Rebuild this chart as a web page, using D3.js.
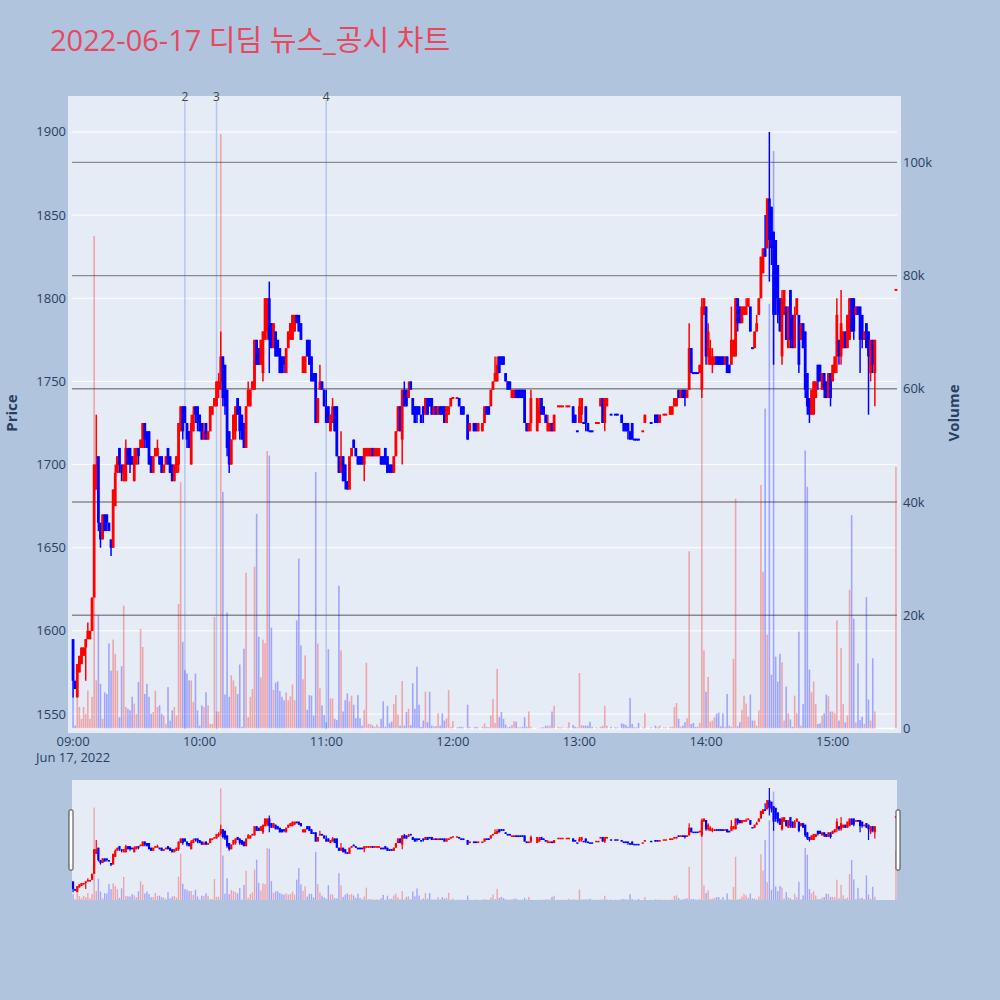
<!DOCTYPE html>
<html><head><meta charset="utf-8">
<script src="https://cdn.jsdelivr.net/npm/d3@7"></script>
<style>body{margin:0;background:#b0c4de;}svg{display:block;font-family:"Open Sans","Noto Sans",Arial,sans-serif;}</style>
</head><body><svg id="chart" width="1000" height="1000"></svg>
<script>
const chartTitle = "2022-06-17 디딤 뉴스_공시 차트";
const tradeDay = "2022-06-17";
const dateLabel = "Jun 17, 2022";
const hourTicks = ["09:00","10:00","11:00","12:00","13:00","14:00","15:00"];
const priceTicks = [1550,1600,1650,1700,1750,1800,1850,1900];
const volumeTicks = [0,20000,40000,60000,80000,100000];
const volumeTickLabels = ["0","20k","40k","60k","80k","100k"];
const newsTimes = ["09:53","10:08","11:00"];
const newsLabels = ["2","3","4"];

// minutes after 09:00 for each 1-minute candle
const candleMinute = [
0,1,2,3,4,5,6,7,8,9,10,11,12,13,14,15,16,17,18,19,20,21,22,23,24,25,26,27,28,29,
30,31,32,33,34,35,36,37,38,39,40,41,42,43,44,45,46,47,48,49,50,51,52,53,54,55,56,57,58,59,
60,61,62,63,64,65,66,67,68,69,70,71,72,73,74,75,76,77,78,79,80,81,82,83,84,85,86,87,88,89,
90,91,92,93,94,95,96,97,98,99,100,101,102,103,104,105,106,107,108,109,110,111,112,113,114,115,116,117,118,119,
120,121,122,123,124,125,126,127,128,129,130,131,132,133,134,135,136,137,138,139,140,141,142,143,144,145,146,147,148,149,
150,151,152,153,154,155,156,157,158,159,160,161,162,163,164,165,166,167,168,169,170,171,172,173,174,175,176,177,178,179,180,
182,183,184,185,187,188,190,191,192,194,
195,196,197,198,199,200,201,202,203,204,
205,206,207,208,209,210,211,212,213,214,
215,216,217,220,221,222,223,224,225,226,
227,228,230,231,232,234,235,237,238,239,
240,241,242,243,244,245,246,248,249,250,
251,252,253,255,257,258,260,261,262,263,
264,265,266,267,268,270,271,274,276,277,
278,280,281,283,284,285,286,287,288,289,
290,291,292,293,294,295,296,297,298,299,
300,301,302,303,304,305,306,307,308,309,
310,311,312,313,314,315,316,317,318,319,
320,321,322,323,324,325,326,327,328,329,
330,331,332,333,334,335,336,337,338,339,
340,341,342,343,344,345,346,347,348,349,
350,351,352,353,354,355,356,357,358,359,
360,361,362,363,364,365,366,367,368,369,
370,371,372,373,374,375,376,377,378,379,380,
390];

const openPrice = [
1595,1570,1560,1575,1580,1585,1590,1595,1595,1600,
1620,1685,1705,1665,1655,1670,1670,1665,1655,1650,
1675,1695,1710,1700,1690,1690,1710,1710,1705,1690,
1700,1710,1710,1710,1725,1720,1720,1705,1695,1705,
1705,1705,1705,1695,1700,1710,1705,1700,1690,1695,
1700,1720,1735,1735,1725,1720,1700,1720,1735,1735,
1730,1725,1715,1725,1715,1720,1730,1735,1735,1745,
1750,1765,1760,1745,1720,1700,1715,1720,1740,1735,
1730,1725,1710,1735,1735,1745,1745,1775,1770,1760,
1755,1775,1780,1800,1785,1770,1780,1775,1770,1765,
1765,1755,1770,1775,1775,1780,1790,1790,1785,1755,
1755,1775,1775,1765,1755,1755,1725,1745,1750,1745,
1735,1735,1720,1725,1735,1735,1705,1695,1705,1700,
1690,1685,1705,1715,1710,1705,1705,1705,1700,1705,
1705,1705,1710,1705,1705,1705,1705,1705,1710,1705,
1700,1700,1695,1705,1720,1735,1715,1745,1745,1740,
1750,1740,1735,1735,1735,1730,1735,1730,1740,1740,
1740,1730,1735,1730,1735,1735,1735,1725,1730,1735,1740,
1740,1740,1735,1735,1730,1720,1725,1725,1720,1720,
1725,1735,1735,1735,1745,1750,1750,1765,1765,1765,
1755,1750,1750,1740,1740,1745,1745,1745,1745,1745,
1725,1720,1725,1720,1725,1740,1735,1730,1720,1720,
1725,1720,1735,1735,1735,1735,1735,1735,1730,1720,
1725,1730,1725,1735,1725,1720,1720,1725,1725,1735,
1740,1725,1735,1730,1730,1730,1730,1725,1725,1725,
1720,1725,1715,1715,1715,1720,1725,1725,1730,1730,
1725,1730,1730,1730,1730,1735,1735,1745,1740,1745,
1745,1740,1745,1770,1755,1755,1755,1755,1745,1790,
1795,1765,1760,1760,1760,1765,1765,1765,1765,1760,
1765,1760,1760,1765,1765,1800,1795,1785,1790,1790,
1795,1795,1770,1770,1780,1790,1800,1815,1830,1830,
1860,1855,1840,1835,1820,1800,1765,1790,1795,1770,
1805,1790,1770,1790,1790,1775,1785,1780,1755,1740,
1730,1730,1740,1760,1760,1745,1755,1750,1740,1755,
1750,1755,1765,1775,1765,1770,1780,1770,1775,1800,
1800,1790,1795,1795,1790,1775,1785,1780,1755,1775,1755,
1805];

const highPrice = [
1595,1570,1580,1585,1590,1590,1595,1605,1600,1620,
1700,1730,1705,1665,1670,1670,1670,1665,1655,1685,
1700,1705,1710,1700,1700,1715,1710,1710,1705,1710,
1710,1710,1715,1725,1725,1720,1720,1705,1705,1710,
1715,1705,1705,1700,1705,1710,1705,1700,1700,1705,
1725,1735,1735,1735,1725,1720,1730,1735,1735,1735,
1730,1725,1725,1725,1720,1735,1735,1740,1750,1755,
1780,1765,1760,1745,1720,1715,1730,1735,1740,1735,
1730,1725,1735,1750,1745,1750,1775,1775,1770,1775,
1780,1800,1800,1810,1785,1785,1780,1775,1770,1765,
1765,1770,1780,1785,1790,1790,1790,1790,1785,1765,
1765,1775,1775,1765,1755,1755,1740,1760,1750,1745,
1745,1735,1730,1740,1735,1735,1705,1720,1705,1700,
1690,1705,1710,1715,1710,1705,1705,1705,1710,1710,
1710,1710,1710,1710,1710,1710,1705,1705,1710,1705,
1700,1700,1705,1720,1735,1735,1745,1750,1745,1750,
1750,1740,1735,1735,1735,1730,1735,1740,1740,1740,
1740,1735,1735,1735,1735,1735,1735,1735,1735,1740,1740,
1740,1740,1735,1735,1730,1725,1725,1725,1725,1725,
1735,1735,1735,1745,1750,1765,1765,1765,1765,1765,
1755,1750,1750,1745,1745,1745,1745,1745,1745,1745,
1725,1725,1745,1740,1740,1740,1735,1730,1730,1725,
1725,1730,1735,1735,1735,1735,1735,1735,1730,1720,
1740,1740,1725,1735,1725,1720,1720,1725,1725,1740,
1740,1740,1740,1730,1730,1730,1730,1725,1725,1725,
1720,1725,1715,1715,1715,1720,1730,1725,1730,1730,
1730,1730,1730,1735,1735,1740,1740,1745,1745,1745,
1745,1745,1785,1770,1755,1755,1755,1760,1800,1800,
1795,1785,1775,1770,1765,1765,1765,1765,1765,1765,
1765,1760,1795,1775,1800,1800,1795,1795,1795,1800,
1800,1795,1770,1780,1790,1800,1825,1830,1850,1860,
1900,1855,1840,1835,1820,1800,1805,1805,1795,1795,
1805,1790,1795,1800,1790,1785,1785,1780,1755,1740,
1745,1750,1750,1760,1760,1755,1755,1750,1755,1755,
1760,1765,1800,1775,1805,1780,1780,1790,1800,1800,
1800,1795,1795,1795,1790,1780,1785,1780,1775,1775,1775,
1805];

const lowPrice = [
1560,1565,1560,1575,1580,1585,1570,1595,1595,1600,
1620,1685,1660,1650,1655,1660,1660,1660,1645,1650,
1675,1695,1695,1690,1690,1690,1700,1695,1700,1690,
1700,1700,1710,1710,1710,1710,1700,1695,1695,1705,
1705,1700,1695,1695,1700,1700,1695,1690,1690,1695,
1695,1720,1715,1725,1710,1710,1700,1720,1725,1720,
1720,1715,1715,1715,1715,1720,1730,1735,1735,1740,
1745,1735,1730,1705,1695,1700,1715,1715,1730,1715,
1715,1710,1710,1735,1735,1745,1745,1760,1760,1760,
1750,1775,1775,1755,1770,1770,1765,1765,1755,1755,
1755,1755,1770,1775,1775,1780,1785,1780,1775,1755,
1755,1765,1760,1750,1750,1725,1725,1745,1745,1735,
1725,1725,1720,1725,1720,1705,1695,1695,1690,1685,
1685,1685,1705,1710,1705,1700,1700,1700,1690,1705,
1705,1705,1705,1705,1705,1705,1700,1700,1700,1695,
1695,1695,1695,1705,1720,1720,1700,1735,1735,1740,
1745,1730,1725,1725,1730,1725,1725,1730,1730,1735,
1730,1730,1730,1730,1730,1730,1725,1725,1730,1735,1740,
1740,1735,1730,1730,1715,1720,1720,1720,1720,1720,
1725,1730,1730,1735,1745,1750,1750,1755,1760,1760,
1750,1745,1745,1740,1740,1740,1740,1740,1740,1725,
1720,1720,1720,1720,1725,1730,1730,1725,1720,1720,
1720,1720,1735,1735,1735,1735,1735,1725,1725,1720,
1725,1725,1725,1720,1720,1720,1720,1725,1725,1735,
1725,1720,1735,1730,1730,1730,1725,1720,1720,1715,
1715,1715,1715,1715,1715,1720,1725,1725,1725,1725,
1725,1730,1730,1730,1730,1735,1735,1740,1740,1740,
1735,1740,1745,1755,1755,1755,1755,1755,1740,1790,
1760,1760,1760,1755,1760,1760,1760,1760,1760,1760,
1755,1755,1760,1765,1765,1780,1785,1785,1790,1790,
1795,1780,1770,1770,1780,1790,1800,1815,1825,1830,
1810,1820,1760,1790,1785,1780,1760,1790,1775,1770,
1770,1770,1770,1790,1755,1775,1770,1740,1730,1725,
1730,1730,1740,1745,1750,1745,1740,1740,1740,1735,
1750,1755,1755,1760,1760,1770,1770,1770,1775,1780,
1775,1790,1790,1755,1770,1775,1770,1730,1750,1755,1735,
1805];

const closePrice = [
1570,1565,1580,1585,1590,1590,1595,1600,1600,1620,
1700,1700,1665,1655,1670,1660,1665,1660,1650,1685,
1695,1705,1700,1695,1700,1710,1700,1700,1700,1705,
1710,1705,1715,1725,1715,1710,1700,1695,1705,1710,
1710,1700,1695,1700,1705,1700,1695,1690,1700,1705,
1725,1735,1720,1725,1715,1710,1725,1730,1730,1725,
1720,1715,1720,1715,1720,1735,1735,1740,1750,1750,
1765,1740,1735,1710,1700,1715,1730,1735,1730,1720,
1715,1710,1735,1745,1745,1750,1775,1760,1760,1775,
1780,1800,1800,1775,1770,1785,1765,1765,1755,1755,
1760,1770,1780,1785,1790,1790,1785,1780,1775,1765,
1765,1765,1760,1750,1750,1725,1740,1750,1745,1735,
1725,1725,1730,1735,1720,1705,1695,1705,1690,1690,
1685,1705,1710,1710,1705,1700,1700,1700,1710,1710,
1710,1710,1705,1710,1710,1710,1700,1700,1700,1695,
1695,1695,1705,1720,1735,1720,1745,1735,1735,1745,
1745,1730,1725,1730,1730,1725,1730,1740,1730,1735,
1730,1735,1730,1735,1730,1730,1725,1735,1735,1740,1740,
1740,1735,1730,1730,1715,1725,1720,1720,1725,1725,
1735,1730,1730,1745,1750,1755,1760,1755,1760,1760,
1750,1745,1745,1745,1745,1740,1740,1740,1740,1725,
1720,1725,1740,1740,1735,1730,1730,1725,1725,1725,
1720,1730,1735,1735,1735,1735,1735,1725,1725,1720,
1735,1740,1725,1725,1720,1720,1720,1725,1725,1740,
1725,1740,1740,1730,1730,1730,1725,1720,1720,1720,
1715,1715,1715,1715,1715,1720,1730,1725,1725,1725,
1730,1730,1730,1735,1735,1740,1740,1740,1745,1740,
1740,1745,1770,1755,1755,1755,1755,1760,1795,1800,
1765,1780,1770,1765,1765,1760,1760,1760,1760,1765,
1755,1755,1775,1775,1800,1785,1785,1795,1795,1795,
1800,1780,1770,1780,1785,1800,1825,1830,1825,1860,
1835,1830,1790,1800,1790,1780,1800,1805,1775,1795,
1775,1770,1790,1800,1760,1785,1770,1745,1735,1730,
1745,1750,1750,1750,1750,1755,1745,1740,1755,1740,
1760,1765,1790,1765,1785,1780,1770,1790,1800,1780,
1780,1795,1790,1775,1775,1780,1770,1765,1775,1760,1775,
1805];

const volume = [
5600,500,6100,3800,1700,3800,2600,6700,1700,5600,
87000,8500,20000,7900,1700,6400,6100,15000,10200,15700,
13200,10200,2000,11000,21700,3800,3500,3200,5600,4400,
2600,8200,17600,14400,6100,7900,5600,2600,2900,6700,
3800,4100,2600,2300,800,7300,1400,3200,3800,2300,
22000,43500,15300,10300,9700,8500,8500,4700,9700,3200,
500,4100,3800,6400,4100,800,800,19700,3000,3000,
105000,41800,6000,20500,5600,9400,8500,7400,6100,11300,
300,14100,27500,2000,5600,7000,28600,37900,16200,9000,
15700,15100,49000,48200,17800,6800,8100,8300,6600,5600,
5000,6400,5000,5700,7800,5000,19100,30000,14700,8700,
12900,3300,5900,5800,2300,45300,15000,7100,4100,2400,
1100,14000,5300,5300,1700,1500,25200,13800,3000,5000,
6200,4800,5800,4200,1800,5900,1800,500,3300,11600,
800,800,500,300,700,300,1700,4800,300,4000,
900,1200,4300,5900,2500,500,8400,500,2900,3500,
600,8000,3500,10900,4200,300,1400,6500,1100,6500,
500,400,400,2700,500,2700,1400,1800,6800,300,1300,
200,300,300,200,4200,300,200,300,200,300,
900,300,200,2300,5200,1000,10500,2000,2900,1700,
700,200,300,600,1300,1200,200,200,300,2000,
300,3000,300,100,100,200,200,500,500,500,
3000,4000,300,200,200,200,1100,600,300,200,
9800,600,500,500,500,1200,300,200,100,300,
400,4000,500,300,200,200,900,800,600,300,
5400,800,200,200,1000,200,2700,200,500,200,
500,200,200,300,300,3800,4500,1700,300,500,
1100,1800,31300,800,1000,300,300,1000,76000,13800,
6500,9100,1200,1400,2000,2600,2800,400,2700,300,
6100,500,300,12300,40600,400,1100,3300,5800,4400,
2100,6000,1400,1400,500,3200,43000,27700,56500,16600,
75000,9500,102000,12700,8300,13200,11700,1400,7400,2700,
1600,300,5800,2700,17100,500,4300,49100,42700,10400,
6400,8300,4300,800,900,2300,2700,6000,5700,3000,
3000,2700,19100,1400,14200,4300,1100,2300,24500,37700,
19400,1100,11500,1500,2100,800,23200,5100,1400,12400,3000,
46200];

const svg = d3.select("#chart");
const parse = d3.timeParse("%Y-%m-%d %H:%M");
const t0 = parse(tradeDay + " 09:00");
const rows = candleMinute.map((m, i) => ({
  t: d3.timeMinute.offset(t0, m), o: openPrice[i], h: highPrice[i], l: lowPrice[i], c: closePrice[i], v: volume[i]
}));
rows.forEach((d, i) => {
  if (d.c > d.o) d.up = true;
  else if (d.c < d.o) d.up = false;
  else if (i === 0) d.up = true;
  else { const pc = rows[i - 1].c; d.up = d.c > pc ? true : d.c < pc ? false : rows[i - 1].up; }
});
const UP = "#ff0000", DOWN = "#0000ff";

const pL = 72, pR = 897, pT = 100, pB = 729;
const x = d3.scaleTime()
  .domain([new Date(t0.getTime() - 30000), new Date(d3.timeMinute.offset(t0, 390).getTime() + 30000)])
  .range([pL, pR]);
const yP = d3.scaleLinear().domain([1541, 1919.2]).range([pB, pT]);
const yV = d3.scaleLinear().domain([0, 111000]).range([728.5, pT]);

// title
svg.append("text").attr("x", 50).attr("y", 51).attr("font-size", 29)
  .attr("font-family", "'Open Sans','Noto Sans CJK KR',sans-serif")
  .attr("fill", "#e8485f").text(chartTitle);

// plot bg
svg.append("rect").attr("x", 68).attr("y", 96).attr("width", 833).attr("height", 637).attr("fill", "#e5ecf6");

// price grid
svg.append("g").selectAll("line").data(priceTicks).join("line")
  .attr("x1", pL).attr("x2", pR).attr("y1", d => yP(d)).attr("y2", d => yP(d))
  .attr("stroke", "#fff").attr("stroke-width", 1);
// volume grid
svg.append("g").selectAll("line").data(volumeTicks).join("line")
  .attr("x1", pL).attr("x2", pR).attr("y1", d => yV(d)).attr("y2", d => yV(d))
  .attr("stroke", (d, i) => i === 0 ? "#fff" : "#8a8a8a").attr("stroke-width", (d, i) => i === 0 ? 1.5 : 1.3);

// volume bars
svg.append("g").selectAll("rect").data(rows).join("rect")
  .attr("x", d => x(d.t) - 0.8).attr("width", 1.6)
  .attr("y", d => yV(d.v)).attr("height", d => yV(0) - yV(d.v))
  .attr("fill", d => d.up ? UP : DOWN).attr("opacity", 0.3);

// news lines
const newsDates = newsTimes.map(s => parse(tradeDay + " " + s));
svg.append("g").selectAll("line").data(newsDates).join("line")
  .attr("x1", d => x(d)).attr("x2", d => x(d)).attr("y1", pT).attr("y2", pB)
  .attr("stroke", "rgb(65,105,225)").attr("stroke-opacity", 0.3).attr("stroke-width", 1.5);
svg.append("g").selectAll("text").data(newsDates).join("text")
  .attr("x", d => x(d)).attr("y", 101).attr("text-anchor", "middle")
  .attr("font-size", 12).attr("fill", "#444").text((d, i) => newsLabels[i]);

// candles
function drawCandles(g, xs, ys, wickW, bodyW, minH) {
  g.selectAll("line").data(rows).join("line")
    .attr("x1", d => xs(d.t)).attr("x2", d => xs(d.t))
    .attr("y1", d => ys(d.h)).attr("y2", d => ys(d.l))
    .attr("stroke", d => d.up ? UP : DOWN).attr("stroke-width", wickW);
  g.selectAll("rect").data(rows).join("rect")
    .attr("x", d => xs(d.t) - bodyW / 2).attr("width", bodyW)
    .attr("y", d => Math.min(ys(d.o), ys(d.c)) - (Math.abs(ys(d.o) - ys(d.c)) < minH ? minH / 2 : 0))
    .attr("height", d => Math.max(minH, Math.abs(ys(d.o) - ys(d.c))))
    .attr("fill", d => d.up ? UP : DOWN);
}
drawCandles(svg.append("g"), x, yP, 1.5, 2.8, 2);

// axes labels
const tickColor = "#2a3f5f";
svg.append("g").selectAll("text").data(priceTicks).join("text")
  .attr("x", 66).attr("y", d => yP(d)).attr("dy", "0.35em").attr("text-anchor", "end")
  .attr("font-size", 13).attr("fill", tickColor).text(d => d);
svg.append("g").selectAll("text").data(volumeTicks).join("text")
  .attr("x", 903).attr("y", d => yV(d)).attr("dy", "0.35em").attr("text-anchor", "start")
  .attr("font-size", 13).attr("fill", tickColor).text((d, i) => volumeTickLabels[i]);
const hourDates = hourTicks.map(s => parse(tradeDay + " " + s));
svg.append("g").selectAll("text").data(hourDates).join("text")
  .attr("x", d => x(d)).attr("y", 746).attr("text-anchor", "middle")
  .attr("font-size", 13).attr("fill", tickColor).text((d, i) => hourTicks[i]);
svg.append("text").attr("x", x(hourDates[0])).attr("y", 762).attr("text-anchor", "middle")
  .attr("font-size", 13).attr("fill", tickColor).text(dateLabel);

svg.append("text").attr("transform", "translate(17,413) rotate(-90)").attr("text-anchor", "middle")
  .attr("font-size", 15).attr("font-weight", "bold").attr("fill", tickColor).text("Price");
svg.append("text").attr("transform", "translate(959,413) rotate(-90)").attr("text-anchor", "middle")
  .attr("font-size", 15).attr("font-weight", "bold").attr("fill", tickColor).text("Volume");

// range slider
svg.append("rect").attr("x", pL).attr("y", 780).attr("width", pR - pL).attr("height", 120).attr("fill", "#e5ecf6");
const yPs = d3.scaleLinear().domain([1541, 1919.2]).range([898, 782]);
const yVs = d3.scaleLinear().domain([0, 111000]).range([900, 782]);
svg.append("g").selectAll("rect").data(rows).join("rect")
  .attr("x", d => x(d.t) - 0.7).attr("width", 1.4)
  .attr("y", d => yVs(d.v)).attr("height", d => yVs(0) - yVs(d.v))
  .attr("fill", d => d.up ? UP : DOWN).attr("opacity", 0.3);
drawCandles(svg.append("g"), x, yPs, 1.2, 2.2, 1.5);
[pL - 3, pR - 1].forEach(hx => {
  svg.append("rect").attr("x", hx).attr("y", 810).attr("width", 4).attr("height", 60)
    .attr("rx", 1).attr("fill", "#fff").attr("stroke", "#444").attr("stroke-width", 1);
});
</script></body></html>
